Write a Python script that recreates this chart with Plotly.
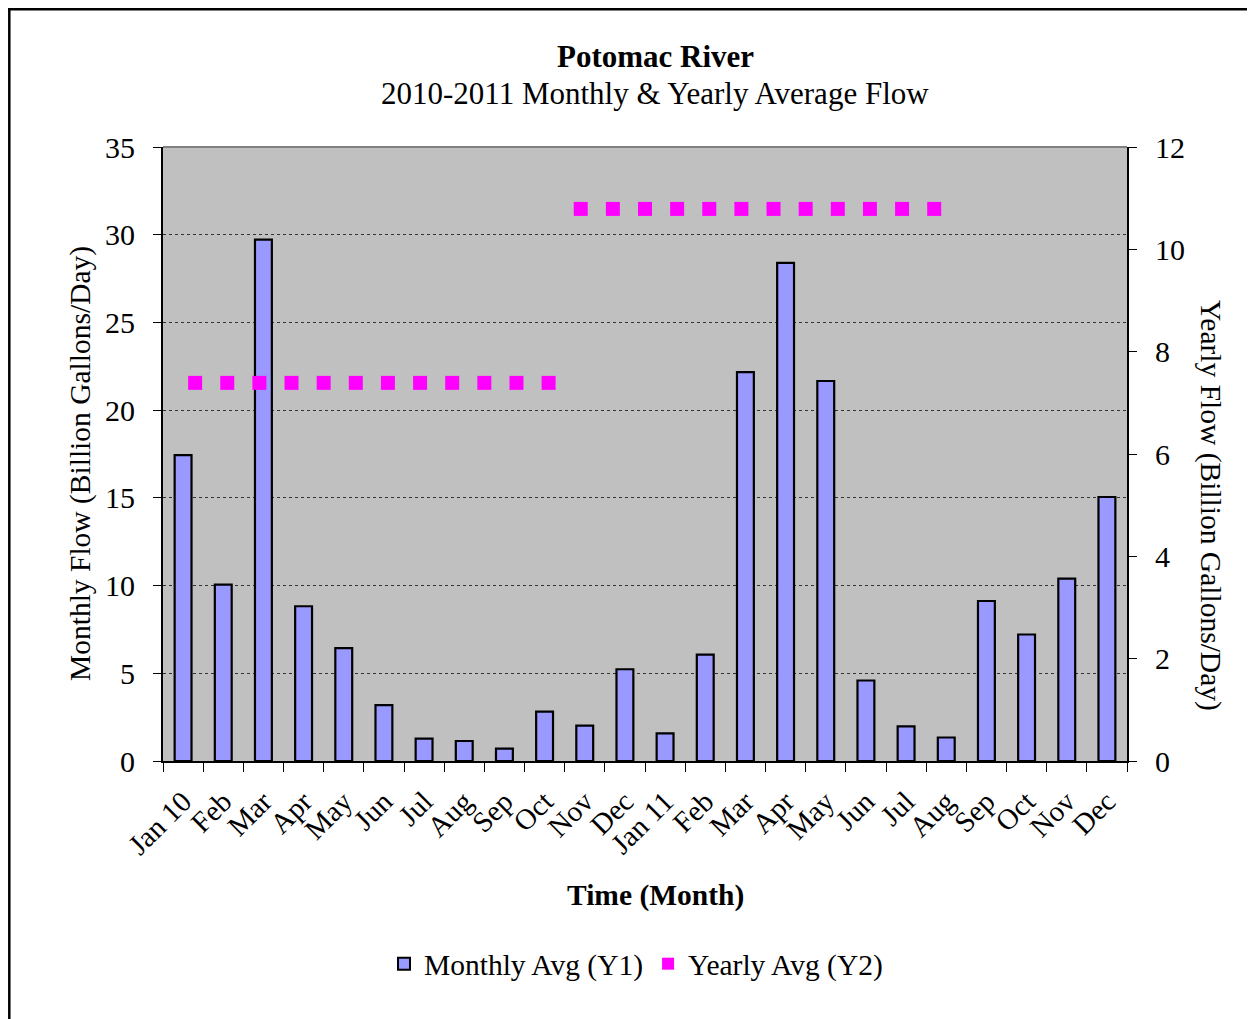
import plotly.graph_objects as go

# ---- data ----
periods = ["2010-01", "2010-02", "2010-03", "2010-04", "2010-05", "2010-06",
           "2010-07", "2010-08", "2010-09", "2010-10", "2010-11", "2010-12",
           "2011-01", "2011-02", "2011-03", "2011-04", "2011-05", "2011-06",
           "2011-07", "2011-08", "2011-09", "2011-10", "2011-11", "2011-12"]
tick_labels = ["Jan 10", "Feb", "Mar", "Apr", "May", "Jun", "Jul", "Aug", "Sep", "Oct", "Nov", "Dec",
               "Jan 11", "Feb", "Mar", "Apr", "May", "Jun", "Jul", "Aug", "Sep", "Oct", "Nov", "Dec"]
monthly_avg = [17.44, 10.05, 29.72, 8.82, 6.43, 3.19, 1.27, 1.14, 0.70, 2.82, 2.02, 5.23,
               1.58, 6.06, 22.17, 28.39, 21.66, 4.59, 1.97, 1.34, 9.12, 7.21, 10.40, 15.05]
yearly_avg = [7.39, 7.39, 7.39, 7.39, 7.39, 7.39, 7.39, 7.39, 7.39, 7.39, 7.39, 7.39,
              10.79, 10.79, 10.79, 10.79, 10.79, 10.79, 10.79, 10.79, 10.79, 10.79, 10.79, 10.79]
y1_ticks = [0, 5, 10, 15, 20, 25, 30, 35]
y2_ticks = [0, 2, 4, 6, 8, 10, 12]

FONT = "Liberation Serif, Times New Roman, serif"
OFF = 8  # page body margin added by the browser
W, H = 1255 - OFF, 1019 - OFF
L, T = 163 - OFF, 147 - OFF
PW, PH = 964, 614
R, B = W - L - PW, H - T - PH


def px_x(p):
    # p is a screen pixel in the 1255x1019 window
    return (p - OFF - L) / PW


def px_y(p):
    return (T + PH - (p - OFF)) / PH


fig = go.Figure()
fig.add_trace(go.Bar(
    x=periods, y=monthly_avg, name="Monthly Avg (Y1)",
    marker=dict(color="#9999FF", line=dict(color="black", width=2.2)),
    xaxis="x", yaxis="y",
))
fig.add_trace(go.Scatter(
    x=periods, y=yearly_avg, name="Yearly Avg (Y2)", mode="markers",
    marker=dict(symbol="square", size=14, color="#FF00FF"),
    xaxis="x2", yaxis="y2",
))

fig.update_layout(
    width=W, height=H,
    margin=dict(l=L, r=R, t=T, b=B, pad=0),
    paper_bgcolor="white", plot_bgcolor="#C0C0C0",
    font=dict(family=FONT, size=30, color="black"),
    bargap=0.58,
    showlegend=True,
    legend=dict(orientation="h", x=px_x(636), xanchor="center", y=px_y(964), yanchor="middle",
                font=dict(size=29.5), bgcolor="rgba(0,0,0,0)", itemsizing="constant"),
    xaxis=dict(type="category", categoryorder="array", categoryarray=periods,
               tickmode="array", tickvals=periods, ticktext=tick_labels,
               tickson="boundaries", ticks="outside", ticklen=9, tickcolor="black", tickwidth=1,
               tickangle=-45, tickfont=dict(size=29), ticklabelstandoff=10,
               showline=True, linecolor="black", linewidth=2, showgrid=False,
               range=[-0.5, 23.5], zeroline=False),
    xaxis2=dict(type="category", categoryorder="array", categoryarray=periods,
                overlaying="x", anchor="y2", visible=False, range=[-1, 29]),
    yaxis=dict(range=[0, 35], tickmode="array", tickvals=y1_ticks,
               ticks="outside", ticklen=8, tickcolor="black",
               showline=True, linecolor="black", linewidth=2,
               showgrid=True, gridcolor="#333333", gridwidth=1, griddash="dot",
               zeroline=False, tickfont=dict(size=30), ticklabelstandoff=12),
    yaxis2=dict(range=[0, 12], tickmode="array", tickvals=y2_ticks, overlaying="y", side="right",
                anchor="x", ticks="outside", ticklen=8, tickcolor="black",
                showline=True, linecolor="black", linewidth=2, showgrid=False, zeroline=False,
                tickfont=dict(size=30), ticklabelstandoff=12),
)

annotations = [
    dict(text="<b>Potomac River</b>", x=px_x(655), y=px_y(57), font=dict(size=31)),
    dict(text="2010-2011 Monthly &amp; Yearly Average Flow", x=px_x(655), y=px_y(94), font=dict(size=31)),
    dict(text="<b>Time (Month)</b>", x=px_x(655), y=px_y(895), font=dict(size=29.5)),
    dict(text="Monthly Flow (Billion Gallons/Day)", x=px_x(80), y=px_y(464), textangle=-90,
         font=dict(size=29.5)),
    dict(text="Yearly Flow (Billion Gallons/Day)", x=px_x(1211), y=px_y(505), textangle=90,
         font=dict(size=29.5)),
]
for a in annotations:
    a.update(xref="paper", yref="paper", xanchor="center", yanchor="middle", showarrow=False)
fig.update_layout(annotations=annotations)

shapes = [
    # plot-area top border
    dict(type="line", xref="paper", yref="paper", x0=0, x1=1, y0=1, y1=1,
         line=dict(color="#808080", width=2)),
    # chart outer border (as close to the page edge as the page margin allows)
    dict(type="line", xref="paper", yref="paper", x0=px_x(9.3), x1=px_x(9.3), y0=px_y(8), y1=px_y(1030),
         line=dict(color="black", width=2.5)),
    dict(type="line", xref="paper", yref="paper", x0=px_x(8), x1=px_x(1260), y0=px_y(9.3), y1=px_y(9.3),
         line=dict(color="black", width=2.5)),
    dict(type="line", xref="paper", yref="paper", x0=px_x(1253.5), x1=px_x(1253.5), y0=px_y(8), y1=px_y(1030),
         line=dict(color="#999999", width=1.5)),
]
fig.update_layout(shapes=shapes)

fig.write_html("out.html")
